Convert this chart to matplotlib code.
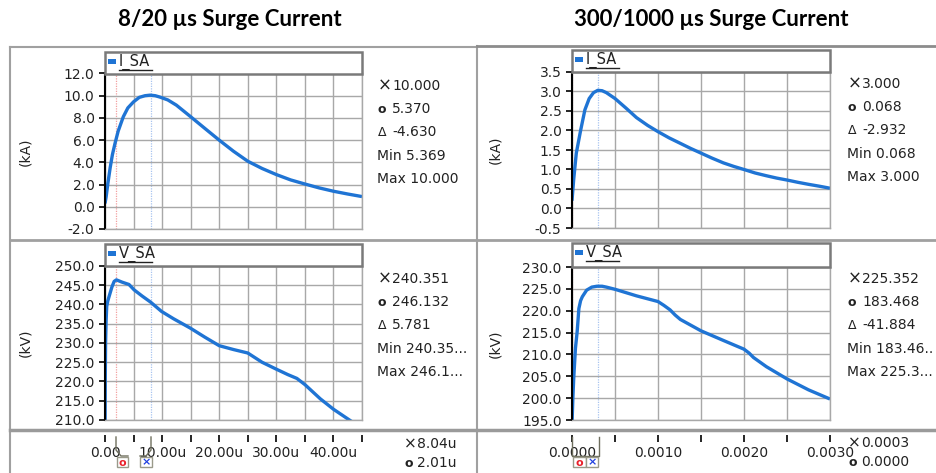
import matplotlib
matplotlib.use("Agg")
import matplotlib.pyplot as plt
from matplotlib.lines import Line2D
from matplotlib.patches import Rectangle

plt.rcParams["font.family"] = ["DejaVu Sans"]

# ---------------- data ----------------
# 8/20 us surge: current (kA) vs time (us)
t_i1 = [0, 0.2, 0.5, 0.9, 1.3, 1.75, 2.3, 3.2, 4.0, 5.0, 6.0, 7.0, 7.9, 8.8, 9.6,
        11, 12.5, 14.9, 17.5, 20, 22.5, 25, 27.5, 30, 32.5, 35, 37.5, 40, 42.5, 45]
i1 = [0.3, 0.9, 2.1, 3.5, 4.7, 5.7, 6.8, 8.1, 8.9, 9.45, 9.85, 10.0, 10.05, 10.0, 9.88,
      9.62, 9.15, 8.15, 7.05, 6.0, 5.0, 4.1, 3.45, 2.9, 2.42, 2.05, 1.7, 1.4, 1.15, 0.92]
# 8/20 us surge: voltage (kV) vs time (us)
t_v1 = [0, 0.05, 0.1, 0.2, 0.3, 0.5, 0.8, 1.2, 1.6, 2.0, 3.0, 4.2, 5.1, 6.5, 8.0,
        9.9, 12, 14.9, 17.5, 20, 22.5, 25, 27.5, 30, 32, 33.6, 35, 37.7, 40, 42.6, 43.5]
v1 = [205, 221, 230, 236, 239.5, 241, 242.5, 244.5, 246.0, 246.4, 245.8, 245.2, 243.8, 242.2, 240.6,
      238.2, 236.3, 233.9, 231.5, 229.3, 228.3, 227.4, 225.0, 223.2, 221.8, 220.8, 219.2, 215.5, 212.8, 210.2, 209.3]
# 300/1000 us surge: current (kA) vs time (s)
t_i2 = [0, 0.00002, 0.00005, 0.0001, 0.00015, 0.0002, 0.00025, 0.0003, 0.00035, 0.0004,
        0.0005, 0.00063, 0.00075, 0.00088, 0.001, 0.00113, 0.00126, 0.00138, 0.0015, 0.00163,
        0.00176, 0.00188, 0.002, 0.00213, 0.00226, 0.00238, 0.0025, 0.00263, 0.00275, 0.00288, 0.003]
i2 = [0.2, 0.75, 1.42, 2.0, 2.53, 2.82, 2.97, 3.03, 3.02, 2.97,
      2.82, 2.57, 2.33, 2.13, 1.97, 1.81, 1.67, 1.54, 1.42, 1.29,
      1.17, 1.08, 1.0, 0.91, 0.84, 0.78, 0.73, 0.67, 0.62, 0.57, 0.52]
# 300/1000 us surge: voltage (kV) vs time (s)
t_v2 = [0, 0.00001, 0.00002, 0.00004, 0.00006, 0.00008, 0.0001, 0.00012, 0.00017, 0.00023,
        0.00029, 0.00035, 0.0004, 0.0005, 0.00075, 0.001, 0.00107, 0.00114, 0.0012, 0.00126,
        0.0015, 0.00176, 0.002, 0.00206, 0.00211, 0.00226, 0.0025, 0.00275, 0.003]
v2 = [194, 200, 204.5, 211.4, 215.2, 220.5, 222.3, 223.2, 224.7, 225.4,
      225.6, 225.6, 225.4, 224.9, 223.4, 222.1, 221.2, 220.2, 219.0, 218.0,
      215.4, 213.2, 211.2, 210.3, 209.3, 207.2, 204.4, 201.9, 199.8]

titles = ["8/20 µs Surge Current", "300/1000 µs Surge Current"]
yt_i1 = [-2.0, 0.0, 2.0, 4.0, 6.0, 8.0, 10.0, 12.0]
yt_v1 = [210.0, 215.0, 220.0, 225.0, 230.0, 235.0, 240.0, 245.0, 250.0]
yt_i2 = [-0.5, 0.0, 0.5, 1.0, 1.5, 2.0, 2.5, 3.0, 3.5]
yt_v2 = [195.0, 200.0, 205.0, 210.0, 215.0, 220.0, 225.0, 230.0]
xt1 = [0, 5, 10, 15, 20, 25, 30, 35, 40, 45]
xl1 = ["0.00", "", "10.00u", "", "20.00u", "", "30.00u", "", "40.00u", ""]
xt2 = [0, 0.0005, 0.001, 0.0015, 0.002, 0.0025, 0.003]
xl2 = ["0.0000", "", "0.0010", "", "0.0020", "", "0.0030"]
cursor1 = [2.01, 8.04]      # red o, blue x
cursor2 = [0.0, 0.0003]
stats_i1 = ["10.000", "5.370", "-4.630", "Min 5.369", "Max 10.000"]
stats_v1 = ["240.351", "246.132", "5.781", "Min 240.35...", "Max 246.1..."]
stats_i2 = ["3.000", "0.068", "-2.932", "Min 0.068", "Max 3.000"]
stats_v2 = ["225.352", "183.468", "-41.884", "Min 183.46..", "Max 225.3..."]
curs_txt1 = ["8.04u", "2.01u"]
curs_txt2 = ["0.0003", "0.0000"]

# ---------------- figure ----------------
W, H = 937, 473
fig = plt.figure(figsize=(W / 100, H / 100), dpi=100)
fig.patch.set_facecolor("white")
BLUE = "#1f74d4"
GRID = "#a8a8a8"
FRAME = "#a0a0a0"
TXT = "#222222"
FS = 10


def fx(x):
    return x / W


def fy(y):
    return 1 - y / H


def add_ax(x0, x1, y0, y1):
    return fig.add_axes([fx(x0), fy(y1), (x1 - x0) / W, (y1 - y0) / H])


def hline(y, x0, x1, color=FRAME, lw=1.5):
    fig.add_artist(Line2D([fx(x0), fx(x1)], [fy(y), fy(y)], color=color, lw=lw))


def vline(x, y0, y1, color=FRAME, lw=1.5):
    fig.add_artist(Line2D([fx(x), fx(x)], [fy(y0), fy(y1)], color=color, lw=lw))


def panel(box, t, y, xlim, ylim, xticks, yticks, ylabel, ylabel_x, legend, cursors, legend_box):
    ax = add_ax(*box)
    ax.plot(t, y, color=BLUE, lw=2.4, solid_capstyle="butt", clip_on=True)
    ax.set_xlim(*xlim)
    ax.set_ylim(*ylim)
    ax.set_xticks(xticks)
    ax.set_yticks(yticks)
    ax.set_yticklabels([f"{v:.1f}" for v in yticks])
    ax.set_xticklabels([])
    ax.grid(True, color=GRID, lw=1.0)
    ax.tick_params(axis="x", length=0)
    ax.tick_params(axis="y", length=4, width=1.2, color="black", labelsize=FS,
                   labelcolor=TXT, pad=3.5)
    for s in ["top", "right", "bottom"]:
        ax.spines[s].set_color(GRID)
        ax.spines[s].set_linewidth(1.0)
    ax.spines["left"].set_color("black")
    ax.spines["left"].set_linewidth(1.5)
    ax.axvline(cursors[0], color="#f2a0a0", lw=0.9, ls=(0, (1, 1)), zorder=1)
    ax.axvline(cursors[1], color="#a8c4f0", lw=0.9, ls=(0, (1, 1)), zorder=1)
    # y label
    fig.text(fx(ylabel_x), fy((box[2] + box[3]) / 2), ylabel, rotation=90,
             ha="center", va="center", fontsize=FS, color=TXT)
    # legend box
    lx0, lx1, ly0, ly1 = legend_box
    fig.add_artist(Rectangle((fx(lx0), fy(ly1)), (lx1 - lx0) / W, (ly1 - ly0) / H,
                             transform=fig.transFigure, facecolor="white",
                             edgecolor="#7a7a7a", lw=1.8, zorder=5))
    fig.add_artist(Rectangle((fx(lx0 + 3), fy(ly0 + 12)), 8 / W, 5 / H,
                             transform=fig.transFigure, facecolor=BLUE,
                             edgecolor="none", zorder=6))
    fig.text(fx(lx0 + 14), fy(ly0 + 10), legend, fontsize=10.5, color=TXT,
             ha="left", va="center", zorder=6)
    fig.add_artist(Line2D([fx(lx0 + 14), fx(lx0 + 13 + 8.4 * len(legend))],
                          [fy(ly0 + 18), fy(ly0 + 18)], color=TXT, lw=1.0, zorder=6))
    return ax


def stats(x, y0, vals):
    sym = ["×", "o", "Δ"]
    step = 23.2
    for k in range(3):
        yy = y0 + k * step
        fig.text(fx(x), fy(yy), sym[k], fontsize=12 if k == 0 else 9,
                 fontweight="bold" if k == 1 else "normal",
                 ha="left", va="center", color=TXT)
        fig.text(fx(x + 14), fy(yy), vals[k], fontsize=FS, ha="left", va="center",
                 color=TXT)
    for k in range(3, 5):
        yy = y0 + k * step
        fig.text(fx(x - 1), fy(yy), vals[k], fontsize=FS, ha="left", va="center",
                 color=TXT)


# frames
vline(10, 47, 473)
hline(47, 10, 477)
vline(477, 46, 473)
hline(46, 477, 937, color="#8c8c8c", lw=2)
hline(240, 10, 937, lw=2)
hline(430, 10, 937, color="#9a9a9a", lw=2.5)

# titles
fig.text(fx(230), fy(19), titles[0], fontsize=16, fontweight="bold",
         family="Lato", ha="center", va="center", color="black")
fig.text(fx(711), fy(19), titles[1], fontsize=16, fontweight="bold",
         family="Lato", ha="center", va="center", color="black")

# panels
panel((105, 362, 73.5, 229), t_i1, i1, (0, 45), (-2, 12), xt1, yt_i1, "(kA)", 25, "I_SA",
      cursor1, (105, 362, 52, 74))
panel((105, 362, 266, 420), t_v1, v1, (0, 45), (210, 250), xt1, yt_v1, "(kV)", 25, "V_SA",
      cursor1, (105, 362, 244, 266))
panel((572, 830, 72, 228), t_i2, i2, (0, 0.003), (-0.5, 3.5), xt2, yt_i2, "(kA)", 495, "I_SA",
      cursor2, (572, 830, 50, 72))
panel((572, 830, 267, 420), t_v2, v2, (0, 0.003), (195, 230), xt2, yt_v2, "(kV)", 495, "V_SA",
      cursor2, (572, 830, 243, 267))

stats(378, 86, stats_i1)
stats(378, 279, stats_v1)
stats(848, 84, stats_i2)
stats(848, 279, stats_v2)

# bottom time axes
for (x0, x1), xt, xl, xlim in [((105, 362), xt1, xl1, (0, 45)),
                                ((572, 830), xt2, xl2, (0, 0.003))]:
    bx = add_ax(x0, x1, 425, 435)
    bx.set_xlim(*xlim)
    bx.set_ylim(0, 1)
    bx.patch.set_alpha(0)
    for s in bx.spines.values():
        s.set_visible(False)
    bx.set_yticks([])
    bx.set_xticks(xt)
    bx.set_xticklabels(xl)
    bx.tick_params(axis="x", length=5, width=1.2, color="black", labelsize=FS,
                   labelcolor=TXT, pad=3)

# cursor values at bottom
for x, vals, ys in [(404, curs_txt1, (444, 463)), (848, curs_txt2, (443, 462))]:
    fig.text(fx(x), fy(ys[0]), "×", fontsize=11, ha="left", va="center", color=TXT)
    fig.text(fx(x + 13), fy(ys[0]), vals[0], fontsize=FS, ha="left", va="center", color=TXT)
    fig.text(fx(x + 1), fy(ys[1]), "o", fontsize=9, fontweight="bold", ha="left", va="center", color=TXT)
    fig.text(fx(x + 13), fy(ys[1]), vals[1], fontsize=FS, ha="left", va="center", color=TXT)


def marker_box(x0, x1, y0, y1, ch, color):
    fig.add_artist(Rectangle((fx(x0), fy(y1)), (x1 - x0) / W, (y1 - y0) / H,
                             transform=fig.transFigure, facecolor="white",
                             edgecolor="#9a9a8a", lw=1.0, zorder=7))
    fig.text(fx((x0 + x1) / 2), fy((y0 + y1) / 2 + 0.5), ch, fontsize=8, fontweight="bold",
             color=color, ha="center", va="center", zorder=8)


BR_C = "#6e6e5e"
# left cursor glyphs
fig.add_artist(Line2D([fx(116), fx(116), fx(121), fx(128)],
                      [fy(437), fy(450), fy(456), fy(456)], color=BR_C, lw=1.0, zorder=7))
fig.add_artist(Line2D([fx(151), fx(151), fx(146), fx(140)],
                      [fy(437), fy(450), fy(456), fy(456)], color=BR_C, lw=1.0, zorder=7))
marker_box(117, 128, 457, 467, "o", "#e8202a")
marker_box(140, 152, 457, 467, "×", "#2040e0")
# right cursor glyphs
fig.add_artist(Line2D([fx(572), fx(572), fx(599), fx(599)],
                      [fy(437), fy(456), fy(456), fy(437)], color=BR_C, lw=1.0, zorder=7))
marker_box(573, 586, 457, 467, "o", "#e8202a")
marker_box(586, 598, 457, 467, "×", "#2040e0")

fig.savefig("out.png", dpi=100, facecolor="white")
